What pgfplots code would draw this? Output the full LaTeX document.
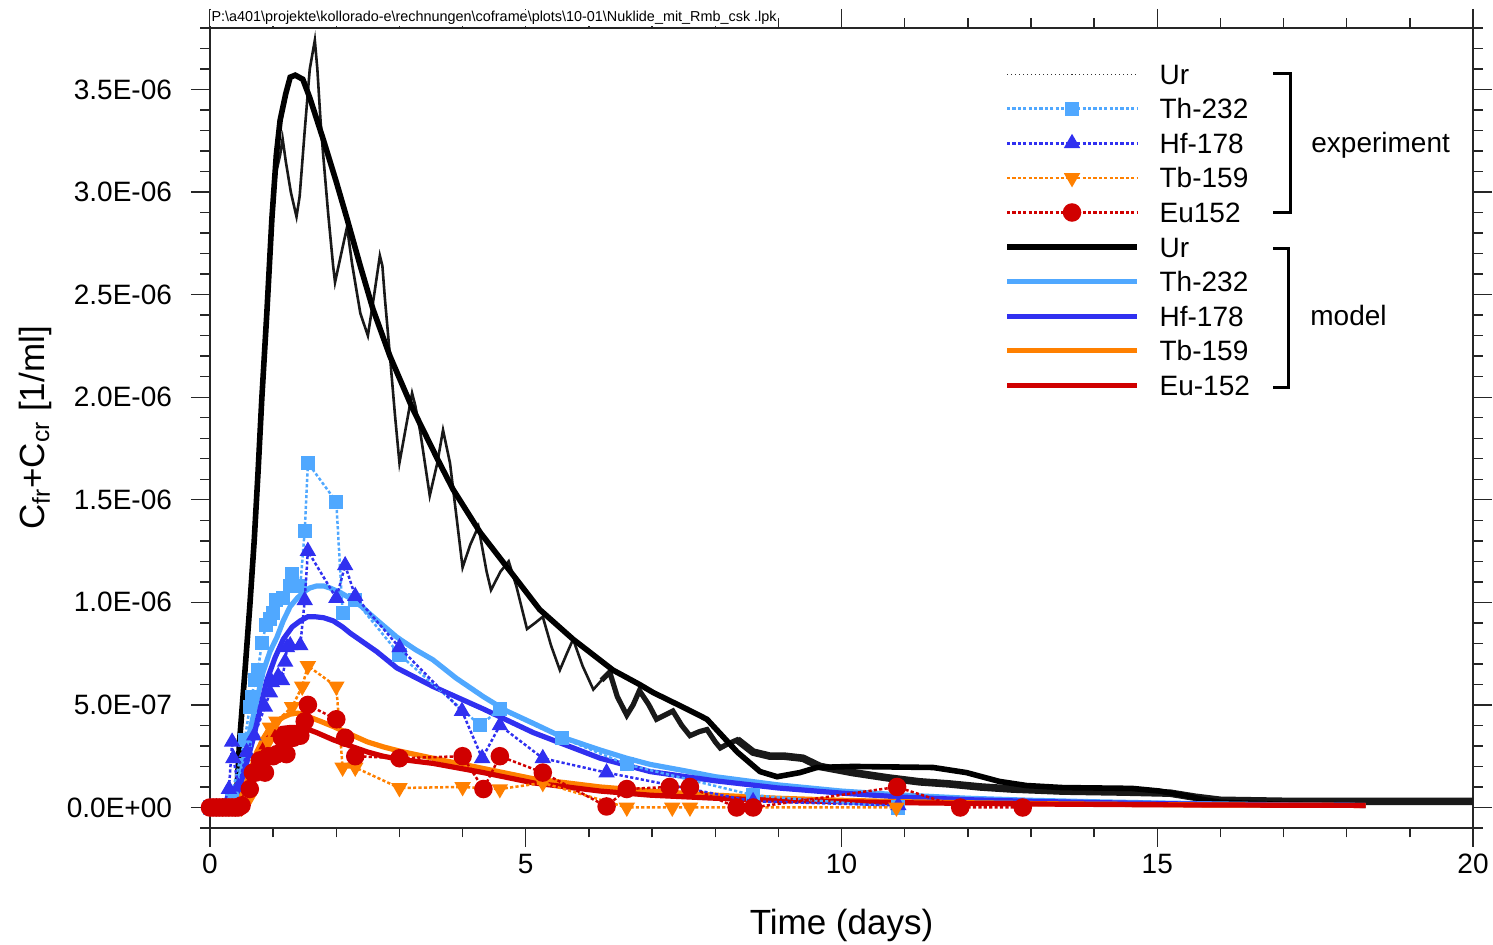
\documentclass[border=0pt]{standalone}
\usepackage{fontspec}
\setmainfont{Liberation Sans}
\usepackage{pgfplots}
\pgfplotsset{compat=1.18}
\definecolor{thc}{RGB}{80,168,255}
\definecolor{hfc}{RGB}{48,48,240}
\definecolor{tbc}{RGB}{255,128,0}
\definecolor{euc}{RGB}{208,0,0}
\pgfplotsset{
 expline/.style={line width=1.25pt, dash pattern=on 1.6pt off 1.1pt},
 modline/.style={line width=2.6pt},
}
\begin{document}
\begin{tikzpicture}
\begin{axis}[
 scale only axis, width=631.5pt, height=400pt,
 xmin=0, xmax=20, ymin=-1e-7, ymax=3.8e-6,
 xtick={0,5,10,15,20}, xticklabels={0,5,10,15,20},
 minor x tick num=4,
 ytick={0,5e-7,1e-6,1.5e-6,2e-6,2.5e-6,3e-6,3.5e-6},
 yticklabels={0.0E+00,5.0E-07,1.0E-06,1.5E-06,2.0E-06,2.5E-06,3.0E-06,3.5E-06},
 minor ytick={-1e-7,1e-7,2e-7,3e-7,4e-7,6e-7,7e-7,8e-7,9e-7,1.1e-6,1.2e-6,1.3e-6,1.4e-6,1.6e-6,1.7e-6,1.8e-6,1.9e-6,2.1e-6,2.2e-6,2.3e-6,2.4e-6,2.6e-6,2.7e-6,2.8e-6,2.9e-6,3.1e-6,3.2e-6,3.3e-6,3.4e-6,3.6e-6,3.7e-6,3.8e-6},
 scaled y ticks=false,
 tick align=outside,
 major tick length=9.5pt, minor tick length=4.75pt,
 axis line style={line width=0.9pt, black!85},
 tick style={line width=0.7pt, black!85},
 ticklabel style={font=\fontsize{14}{16}\selectfont},
 yticklabel style={xshift=-6pt},
 xlabel={Time (days)},
 ylabel={C\textsubscript{fr}+C\textsubscript{cr} [1/ml]},
 xlabel style={font=\fontsize{17.5}{20}\selectfont, at={(axis description cs:0.5,-0.12125)}, anchor=center},
 ylabel style={font=\fontsize{17.5}{20}\selectfont, at={(axis description cs:-0.1386,0.5)}, anchor=center, rotate=0},
 clip mode=individual,
 legend style={draw=none, fill=none, at={(0.629,0.964)}, anchor=north west, inner sep=0pt, outer sep=0pt, row sep=0pt, column sep=10pt, font=\fontsize{14}{16}\selectfont, nodes={inner sep=0pt, text height=13.65pt, text depth=3.65pt}},
 legend cell align=left,
 legend image code/.code={\draw[mark repeat=2,mark phase=2,#1] plot coordinates {(0pt,0pt) (32.5pt,0pt) (65pt,0pt)};},
]
% ---- Ur experiment (noisy measured curve)
\addplot[forget plot, black!90, line width=1.3pt] table {
t c
0 0
0.2 0
0.35 0.1e-7
0.42 1.0e-7
0.47 3.0e-7
0.55 6.0e-7
0.63 9.5e-7
0.7 12.8e-7
0.76 16.0e-7
0.82 19.5e-7
0.9 24.0e-7
0.98 28.5e-7
1.05 31.0e-7
1.11 31.8e-7
1.15 32.6e-7
1.2 31.5e-7
1.28 30.0e-7
1.37 28.8e-7
1.42 29.8e-7
1.5 33.0e-7
1.58 36.0e-7
1.66 37.4e-7
1.7 36.0e-7
1.75 33.5e-7
1.79 31.9e-7
1.87 29.0e-7
1.95 26.4e-7
1.98 25.6e-7
2.05 26.6e-7
2.17 28.3e-7
2.25 26.5e-7
2.38 24.1e-7
2.5 23.0e-7
2.6 25.0e-7
2.69 26.9e-7
2.73 26.4e-7
2.77 24.8e-7
2.85 22.0e-7
2.93 19.1e-7
3.0 16.8e-7
3.1 18.5e-7
3.2 20.2e-7
3.25 19.6e-7
3.33 18.3e-7
3.48 15.2e-7
3.6 16.8e-7
3.69 18.4e-7
3.8 16.8e-7
3.91 14.0e-7
4.0 11.7e-7
4.12 12.8e-7
4.25 13.7e-7
4.38 11.5e-7
4.45 10.6e-7
4.6 11.5e-7
4.73 12.0e-7
4.85 10.8e-7
5.02 8.7e-7
5.15 9.0e-7
5.27 9.3e-7
5.4 7.9e-7
5.54 6.7e-7
5.65 7.5e-7
5.75 8.2e-7
5.9 6.9e-7
6.07 5.75e-7
6.2 6.2e-7
6.33 6.6e-7
6.45 5.4e-7
};
\addplot[forget plot, black!90, line width=2.6pt] table {
t c
6.2 6.2e-7
6.33 6.6e-7
6.45 5.4e-7
6.6 4.5e-7
6.7 5.0e-7
6.8 5.7e-7
6.95 5.0e-7
7.07 4.3e-7
7.2 4.5e-7
7.33 4.7e-7
7.47 4.0e-7
7.6 3.5e-7
7.75 3.7e-7
7.87 3.8e-7
8.0 3.2e-7
8.08 2.9e-7
8.2 3.1e-7
8.35 3.3e-7
8.6 2.7e-7
};
\addplot[forget plot, black!90, line width=3.8pt] table {
t c
8.35 3.3e-7
8.6 2.7e-7
8.87 2.5e-7
9.1 2.5e-7
9.39 2.4e-7
9.66 2.0e-7
10.18 1.7e-7
10.72 1.45e-7
11.24 1.25e-7
11.7 1.15e-7
12.2 1.0e-7
12.7 0.9e-7
13.5 0.8e-7
14.5 0.75e-7
15.2 0.7e-7
15.6 0.5e-7
16 0.35e-7
17 0.3e-7
20 0.3e-7
};
% ---- Ur model
\addplot[forget plot, black, line width=2.8pt] table {
t c
0 0
0.35 0
0.42 0.5e-7
0.47 3.3e-7
0.55 6.5e-7
0.63 9.8e-7
0.7 13.0e-7
0.76 16.3e-7
0.82 19.9e-7
0.9 24.1e-7
0.98 28.7e-7
1.05 31.8e-7
1.11 33.5e-7
1.2 34.8e-7
1.27 35.6e-7
1.35 35.7e-7
1.47 35.5e-7
1.58 34.6e-7
1.79 32.6e-7
2.0 30.5e-7
2.17 28.7e-7
2.38 26.4e-7
2.58 24.3e-7
2.85 22.0e-7
3.2 19.5e-7
3.6 17.0e-7
3.85 15.5e-7
4.28 13.4e-7
4.77 11.45e-7
5.22 9.65e-7
5.75 8.2e-7
6.38 6.7e-7
6.8 6.0e-7
7.02 5.6e-7
7.55 4.8e-7
7.87 4.3e-7
8.08 3.6e-7
8.35 2.7e-7
8.71 1.75e-7
8.98 1.5e-7
9.34 1.7e-7
9.61 1.95e-7
10.18 2.0e-7
11.45 1.95e-7
11.98 1.7e-7
12.5 1.27e-7
12.93 1.07e-7
13.5 0.97e-7
14.6 0.93e-7
15.04 0.8e-7
15.5 0.55e-7
15.7 0.4e-7
16.0 0.25e-7
17 0.15e-7
18.3 0.12e-7
};
% ---- Th-232 model
\addplot[forget plot, thc, modline] table {
t c
0 0
0.3 0
0.37 0.3e-7
0.5 1.8e-7
0.63 3.7e-7
0.74 5.2e-7
0.84 6.6e-7
0.95 7.6e-7
1.06 8.3e-7
1.16 9.1e-7
1.27 9.8e-7
1.38 10.2e-7
1.48 10.5e-7
1.58 10.7e-7
1.69 10.8e-7
1.8 10.8e-7
1.9 10.7e-7
2.05 10.5e-7
2.22 10.2e-7
2.4 9.8e-7
2.58 9.3e-7
2.77 8.8e-7
2.96 8.3e-7
3.25 7.7e-7
3.53 7.2e-7
3.9 6.3e-7
4.33 5.4e-7
4.7 4.7e-7
5.12 4.1e-7
5.6 3.4e-7
6.18 2.8e-7
6.6 2.4e-7
6.97 2.1e-7
7.5 1.8e-7
8 1.5e-7
9 1.1e-7
10 0.8e-7
11 0.6e-7
12 0.45e-7
13 0.35e-7
14 0.28e-7
15 0.22e-7
16 0.17e-7
17 0.13e-7
18.3 0.1e-7
};
% ---- Hf-178 model
\addplot[forget plot, hfc, modline] table {
t c
0 0
0.33 0
0.4 0.3e-7
0.53 1.6e-7
0.68 3.3e-7
0.8 4.9e-7
0.9 6.2e-7
1.03 7.3e-7
1.16 8.2e-7
1.3 8.8e-7
1.43 9.1e-7
1.55 9.3e-7
1.66 9.3e-7
1.8 9.25e-7
1.95 9.1e-7
2.1 8.8e-7
2.22 8.5e-7
2.43 8.05e-7
2.64 7.6e-7
2.96 6.8e-7
3.53 5.9e-7
4.33 4.8e-7
5.12 3.65e-7
6.18 2.4e-7
6.97 1.75e-7
8 1.3e-7
9 0.95e-7
10 0.7e-7
11 0.5e-7
12 0.38e-7
13 0.3e-7
14 0.24e-7
15 0.19e-7
16 0.15e-7
17 0.12e-7
18.3 0.1e-7
};
% ---- Tb-159 model
\addplot[forget plot, tbc, modline] table {
t c
0 0
0.4 0
0.52 0.7e-7
0.63 1.7e-7
0.74 2.7e-7
0.85 3.4e-7
0.95 3.9e-7
1.06 4.2e-7
1.16 4.4e-7
1.27 4.55e-7
1.38 4.6e-7
1.48 4.55e-7
1.58 4.4e-7
1.75 4.2e-7
1.95 3.95e-7
2.2 3.6e-7
2.49 3.2e-7
2.75 2.95e-7
3.0 2.75e-7
3.53 2.4e-7
4.33 1.9e-7
5.12 1.4e-7
6.18 1.0e-7
6.97 0.8e-7
8 0.6e-7
9 0.45e-7
10 0.35e-7
11 0.28e-7
12 0.23e-7
13 0.19e-7
14 0.16e-7
15 0.14e-7
16 0.12e-7
17 0.11e-7
18.3 0.1e-7
};
% ---- Eu-152 model
\addplot[forget plot, euc, modline] table {
t c
0 0
0.45 0
0.58 0.7e-7
0.68 1.7e-7
0.79 2.7e-7
0.9 3.3e-7
1.0 3.65e-7
1.13 3.85e-7
1.27 3.9e-7
1.43 3.9e-7
1.56 3.8e-7
1.69 3.65e-7
1.95 3.3e-7
2.22 3.0e-7
2.5 2.7e-7
2.74 2.5e-7
3.0 2.35e-7
3.53 2.15e-7
4.33 1.7e-7
5.12 1.2e-7
6.18 0.8e-7
6.97 0.6e-7
8 0.45e-7
9 0.35e-7
10 0.28e-7
11 0.23e-7
12 0.2e-7
13 0.17e-7
14 0.15e-7
15 0.13e-7
16 0.12e-7
17 0.11e-7
18.3 0.1e-7
};
% ---- Th-232 experiment
\addplot[forget plot, thc, expline, mark=square*, mark size=2.9pt, mark options={solid}] table {
t c
0 0
0.1 0
0.2 0
0.3 0.1e-7
0.35 0.7e-7
0.55 3.3e-7
0.63 4.9e-7
0.66 5.4e-7
0.71 6.2e-7
0.76 6.7e-7
0.82 8.0e-7
0.89 8.9e-7
0.95 9.2e-7
1.0 9.5e-7
1.05 10.1e-7
1.16 10.2e-7
1.27 10.8e-7
1.3 11.4e-7
1.43 10.8e-7
1.5 13.5e-7
1.55 16.8e-7
2.0 14.9e-7
2.1 9.5e-7
2.3 10.1e-7
3.0 7.45e-7
4.28 4.0e-7
4.59 4.8e-7
5.57 3.4e-7
6.6 2.1e-7
8.6 0.6e-7
10.9 0.0
};
% ---- Hf-178 experiment
\addplot[forget plot, hfc, expline, mark=triangle*, mark size=3.5pt, mark options={solid}] table {
t c
0 0
0.1 0
0.2 0
0.3 0.9e-7
0.35 3.2e-7
0.37 2.4e-7
0.45 1.0e-7
0.58 2.7e-7
0.7 3.5e-7
0.87 4.9e-7
0.95 5.6e-7
0.98 6.1e-7
1.08 6.4e-7
1.14 6.2e-7
1.19 7.1e-7
1.22 7.8e-7
1.27 7.9e-7
1.43 7.9e-7
1.5 10.1e-7
1.55 12.5e-7
2.0 10.2e-7
2.14 11.8e-7
2.3 10.3e-7
3.0 7.8e-7
3.99 4.7e-7
4.31 2.4e-7
4.59 4.0e-7
5.27 2.4e-7
6.28 1.7e-7
8.6 0.3e-7
10.9 0.1e-7
};
% ---- Tb-159 experiment
\addplot[forget plot, tbc, expline, mark=triangle*, mark size=3.5pt, mark options={solid, rotate=180}] table {
t c
0 0
0.1 0
0.2 0
0.3 0
0.4 0
0.5 0
0.63 0.5e-7
0.76 2.1e-7
0.85 2.6e-7
0.92 3.2e-7
0.95 3.9e-7
1.05 4.2e-7
1.3 4.9e-7
1.46 5.9e-7
1.55 6.9e-7
2.0 5.9e-7
2.1 1.95e-7
2.3 1.95e-7
3.0 0.95e-7
4.0 1.0e-7
4.59 0.9e-7
5.27 1.2e-7
6.6 0
7.32 0
7.6 0
10.87 0
};
% ---- Eu152 experiment
\addplot[forget plot, euc, expline, mark=*, mark size=4pt, mark options={solid}] table {
t c
0 0
0.05 0
0.1 0
0.15 0
0.2 0
0.25 0
0.3 0
0.35 0
0.4 0
0.45 0
0.5 0.1e-7
0.63 0.9e-7
0.68 1.7e-7
0.72 1.7e-7
0.79 2.3e-7
0.87 1.7e-7
0.92 2.5e-7
1.0 2.5e-7
1.06 2.6e-7
1.14 3.4e-7
1.21 2.6e-7
1.27 3.4e-7
1.32 3.4e-7
1.38 3.5e-7
1.43 3.5e-7
1.5 4.2e-7
1.55 5.0e-7
2.0 4.3e-7
2.14 3.4e-7
2.3 2.5e-7
3.0 2.4e-7
4.0 2.5e-7
4.33 0.9e-7
4.59 2.5e-7
5.27 1.7e-7
6.28 0.05e-7
6.6 0.9e-7
7.28 1.0e-7
7.6 1.0e-7
8.34 0
8.6 0
10.88 1.0e-7
11.88 0
12.87 0
};
% ---- legend
\addlegendimage{black!80, line width=0.5pt, dash pattern=on 0.6pt off 1.4pt}
\addlegendentry{Ur}
\addlegendimage{thc, expline, mark=square*, mark size=2.9pt, mark options={solid}}
\addlegendentry{Th-232}
\addlegendimage{hfc, expline, mark=triangle*, mark size=3.5pt, mark options={solid}}
\addlegendentry{Hf-178}
\addlegendimage{tbc, expline, mark=triangle*, mark size=3.5pt, mark options={solid, rotate=180}}
\addlegendentry{Tb-159}
\addlegendimage{euc, expline, mark=*, mark size=4pt, mark options={solid}}
\addlegendentry{Eu152}
\addlegendimage{black, line width=2.6pt}
\addlegendentry{Ur}
\addlegendimage{thc, modline}
\addlegendentry{Th-232}
\addlegendimage{hfc, modline}
\addlegendentry{Hf-178}
\addlegendimage{tbc, modline}
\addlegendentry{Tb-159}
\addlegendimage{euc, modline}
\addlegendentry{Eu-152}
\end{axis}
\coordinate (O) at ([shift={(-105pt,14pt)}]current axis.north west);
\node[anchor=base west, font=\fontsize{7.2}{8}\selectfont, fill=white, inner sep=0.6pt] at ([yshift=3pt]current axis.north west) {P:\textbackslash a401\textbackslash projekte\textbackslash kollorado-e\textbackslash rechnungen\textbackslash coframe\textbackslash plots\textbackslash 10-01\textbackslash Nuklide\_mit\_Rmb\_csk .lpk};
\draw[line width=1.5pt, black] ([shift={(636.5pt,-37pt)}]O) -- ([shift={(645pt,-37pt)}]O) -- ([shift={(645pt,-106.5pt)}]O) -- ([shift={(636.5pt,-106.5pt)}]O);
\draw[line width=1.5pt, black] ([shift={(636.5pt,-124.5pt)}]O) -- ([shift={(644pt,-124.5pt)}]O) -- ([shift={(644pt,-194pt)}]O) -- ([shift={(636.5pt,-194pt)}]O);
\node[anchor=base west, font=\fontsize{14}{16}\selectfont, inner sep=0pt] at ([shift={(655.5pt,-76.5pt)}]O) {experiment};
\node[anchor=base west, font=\fontsize{14}{16}\selectfont, inner sep=0pt] at ([shift={(655pt,-163pt)}]O) {model};
\pgfresetboundingbox
\path[use as bounding box] (O) rectangle ([shift={(10pt,-58.5pt)}]current axis.south east);
\end{tikzpicture}
\end{document}
